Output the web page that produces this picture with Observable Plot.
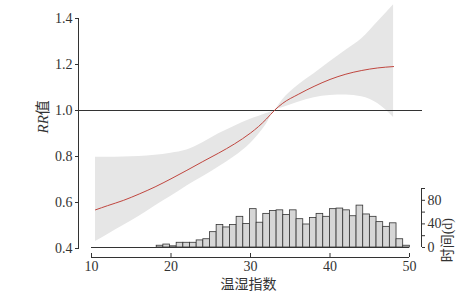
<!DOCTYPE html>
<html><head><meta charset="utf-8">
<script src="https://cdn.jsdelivr.net/npm/d3@7"></script>
<script src="https://cdn.jsdelivr.net/npm/@observablehq/plot@0.6"></script>
<style>
html,body{margin:0;padding:0;background:#fff;}
#chart{position:relative;width:476px;height:296px;}
#chart svg{position:absolute;left:0;top:0;}
</style></head><body><div id="chart"></div>
<script>
// THI (温湿指数) grid and RR with 95% CI
const thi    = [10.5, 12, 14, 16, 18, 20, 22, 24, 26, 28, 30, 31, 32, 33, 34, 36, 38, 40, 42, 44, 46, 48];
const rr     = [0.568,0.586,0.609,0.637,0.668,0.703,0.740,0.778,0.815,0.855,0.902,0.930,0.963,1.000,1.030,1.070,1.105,1.135,1.158,1.174,1.185,1.191];
const rrLow  = [0.430,0.460,0.500,0.540,0.585,0.627,0.672,0.712,0.754,0.800,0.857,0.895,0.940,1.000,1.012,1.036,1.055,1.065,1.067,1.060,1.030,0.970];
const rrHigh = [0.797,0.797,0.798,0.800,0.805,0.814,0.828,0.860,0.899,0.932,0.962,0.974,0.987,1.000,1.045,1.110,1.160,1.212,1.262,1.312,1.385,1.460];
// histogram of days per THI bin
const binStart = 18.2, binWidth = 0.838;
const counts = [3,5,2,8,8,8,12,14,26,38,34,38,52,40,65,42,57,62,63,55,63,48,39,50,57,52,65,66,63,53,71,56,52,43,35,41,14,3];
const rrTicks = [0.4,0.6,0.8,1.0,1.2,1.4];
const thiTicks = [10,20,30,40,50];
const countTicks = [0,20,40,60,80,100];
const countLabels = [0,40,80];
const xTitle = "温湿指数", yTitle = "RR值", y2Title = "时间(d)";

const curve = thi.map((x,i)=>({x, rr: rr[i], lo: rrLow[i], hi: rrHigh[i]}));
const bins = counts.map((n,i)=>({x1: binStart + i*binWidth, x2: binStart + (i+1)*binWidth, n}));
const font = '"Liberation Serif","Noto Sans CJK SC",serif';
const ink = "#333";
const W = 476, H = 296;
const xDomain = [10,50];
const style = {fontFamily:font,fontSize:"14px",color:ink,background:"transparent",overflow:"visible"};

const main = Plot.plot({
  width:W, height:H, marginLeft:78, marginRight:54, marginTop:18, marginBottom:48,
  style,
  x:{domain:xDomain, range:[91,409], axis:null},
  y:{domain:[0.4,1.4], axis:null},
  marks:[
    Plot.areaY(curve,{x:"x",y1:"lo",y2:"hi",fill:"#e6e6e6",curve:"monotone-x"}),
    Plot.ruleY([1],{stroke:ink,strokeWidth:1}),
    Plot.line(curve,{x:"x",y:"rr",stroke:"#c0463f",strokeWidth:1,curve:"monotone-x"}),
    Plot.frame({anchor:"left",stroke:ink}),
    Plot.axisY(rrTicks,{tickSize:3,tickPadding:3,tickFormat:d=>d.toFixed(1),label:null}),
    Plot.text([yTitle],{frameAnchor:"left",dx:-35,rotate:-90,fontSize:15}),
    Plot.text([xTitle],{frameAnchor:"bottom",dx:-2,dy:40,fontSize:14})
  ]
});

const hist = Plot.plot({
  width:W, height:H, marginLeft:91, marginRight:67, marginTop:188, marginBottom:49,
  style,
  x:{domain:xDomain, axis:null},
  y:{domain:[0,100], axis:null},
  marks:[
    Plot.rectY(bins,{x1:"x1",x2:"x2",y:"n",fill:"#d6d6d6",stroke:ink,strokeWidth:0.8}),
    Plot.ruleY([0],{stroke:ink}),
    Plot.ruleY([0],{stroke:ink,dy:10}),
    Plot.axisX(thiTicks,{dy:6,tickSize:4,tickPadding:4,label:null}),
    Plot.ruleX([xDomain[1]],{dx:12,stroke:ink}),
    Plot.axisY(countTicks,{anchor:"right",dx:12,tickSize:3,tickPadding:3,tickFormat:d=>countLabels.includes(d)?String(d):"",label:null}),
    Plot.text([y2Title],{frameAnchor:"right",dx:38,rotate:-90,fontSize:14})
  ]
});

const root = document.getElementById("chart");
root.appendChild(main);
root.appendChild(hist);

// italic "RR" in the y title
const svgNS = "http://www.w3.org/2000/svg";
const t = [...main.querySelectorAll("text")].find(e => e.textContent === yTitle);
if (t) {
  t.textContent = "";
  const a = document.createElementNS(svgNS,"tspan");
  a.setAttribute("font-style","italic");
  a.textContent = yTitle.slice(0,2);
  const b = document.createElementNS(svgNS,"tspan");
  b.textContent = yTitle.slice(2);
  t.appendChild(a); t.appendChild(b);
}
</script></body></html>
